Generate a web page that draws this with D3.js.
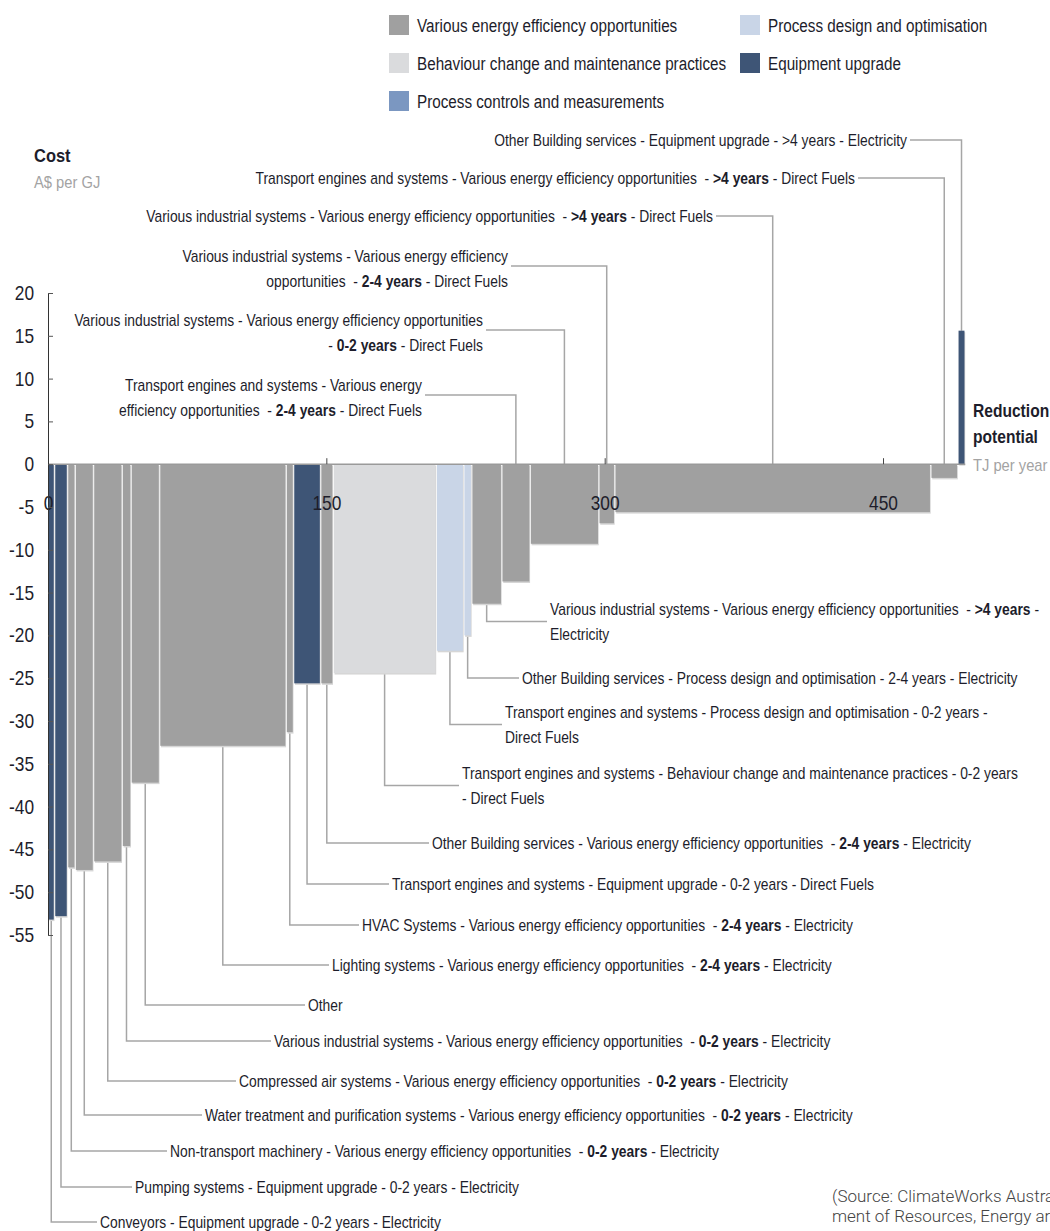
<!DOCTYPE html>
<html>
<head>
<meta charset="utf-8">
<script src="https://cdn.jsdelivr.net/npm/d3@7"></script>
<style>
  body { margin: 0; background: #fff; }
  svg text { font-family: 'Liberation Sans', Arial, sans-serif; fill: #1d1d2b; white-space: pre; }
</style>
</head>
<body>
<div id="chart"></div>
<script>
// Measures, left to right along the curve ("|" = line break in the label)
const measures = [
  "Conveyors - Equipment upgrade - 0-2 years - Electricity",
  "Pumping systems - Equipment upgrade - 0-2 years - Electricity",
  "Non-transport machinery - Various energy efficiency opportunities  - 0-2 years - Electricity",
  "Water treatment and purification systems - Various energy efficiency opportunities  - 0-2 years - Electricity",
  "Compressed air systems - Various energy efficiency opportunities  - 0-2 years - Electricity",
  "Various industrial systems - Various energy efficiency opportunities  - 0-2 years - Electricity",
  "Other",
  "Lighting systems - Various energy efficiency opportunities  - 2-4 years - Electricity",
  "HVAC Systems - Various energy efficiency opportunities  - 2-4 years - Electricity",
  "Transport engines and systems - Equipment upgrade - 0-2 years - Direct Fuels",
  "Other Building services - Various energy efficiency opportunities  - 2-4 years - Electricity",
  "Transport engines and systems - Behaviour change and maintenance practices - 0-2 years|- Direct Fuels",
  "Transport engines and systems - Process design and optimisation - 0-2 years -|Direct Fuels",
  "Other Building services - Process design and optimisation - 2-4 years - Electricity",
  "Various industrial systems - Various energy efficiency opportunities  - >4 years -|Electricity",
  "Transport engines and systems - Various energy|efficiency opportunities  - 2-4 years - Direct Fuels",
  "Various industrial systems - Various energy efficiency opportunities|- 0-2 years - Direct Fuels",
  "Various industrial systems - Various energy efficiency|opportunities  - 2-4 years - Direct Fuels",
  "Various industrial systems - Various energy efficiency opportunities  - >4 years - Direct Fuels",
  "Transport engines and systems - Various energy efficiency opportunities  - >4 years - Direct Fuels",
  "Other Building services - Equipment upgrade - >4 years - Electricity"
];

const levers = [
  "Equipment upgrade", "Equipment upgrade",
  "Various energy efficiency opportunities", "Various energy efficiency opportunities",
  "Various energy efficiency opportunities", "Various energy efficiency opportunities",
  "Various energy efficiency opportunities", "Various energy efficiency opportunities",
  "Various energy efficiency opportunities", "Equipment upgrade",
  "Various energy efficiency opportunities", "Behaviour change and maintenance practices",
  "Process design and optimisation", "Process design and optimisation",
  "Various energy efficiency opportunities", "Various energy efficiency opportunities",
  "Various energy efficiency opportunities", "Various energy efficiency opportunities",
  "Various energy efficiency opportunities", "Various energy efficiency opportunities",
  "Equipment upgrade"
];

// Reduction potential (TJ per year) = bar width
const potential = [3.5, 7.0, 4.1, 9.9, 15.4, 4.8, 15.4, 68.2, 4.0, 14.6, 6.7, 55.6, 14.8, 4.3, 16.2, 15.3, 37.0, 8.6, 170.3, 14.6, 4.0];
// Cost (A$ per GJ) = bar height
const cost = [-53.2, -52.8, -47.1, -47.4, -46.4, -44.6, -37.2, -32.9, -31.3, -25.6, -25.6, -24.4, -21.8, -20.0, -16.3, -13.7, -9.3, -6.9, -5.6, -1.6, 15.6];

const legendItems = [
  "Various energy efficiency opportunities",
  "Behaviour change and maintenance practices",
  "Process controls and measurements",
  "Process design and optimisation",
  "Equipment upgrade"
];
const legendColors = ["#a0a0a0", "#dadbdd", "#7b97c1", "#c9d5e7", "#3e5576"];

const yTicks = d3.range(-55, 21, 5);
const xTicks = [0, 150, 300, 450];

// Label layout (pixels): anchor x and centre y of first line
const labelX = [100, 135, 170, 205, 239, 274, 308, 332, 362, 392, 432, 462, 505, 522, 550, 422, 483, 508, 713, 855, 907];
const labelY = [1222, 1187, 1151, 1115, 1081, 1041, 1005, 965, 925, 884, 843, 773, 712, 678, 609, 385, 320, 256, 216, 178, 140];
const firstTop = 15; // labels from this index on sit above the chart

const NARROW = 0.866; // squeeze Liberation Sans to a narrow face

const W = 1050, H = 1231;
const svg = d3.select("#chart").append("svg")
  .attr("width", W).attr("height", H);

// text helper: condensed text anchored at (px, py)
function ntext(parent, px, py, size, anchor) {
  return parent.append("g")
    .attr("transform", `translate(${px},${py}) scale(${NARROW},1)`)
    .append("text")
    .attr("dy", "0.35em")
    .attr("text-anchor", anchor || "start")
    .style("font-size", size + "px");
}

const x = d3.scaleLinear().domain([0, 495]).range([48, 48 + 495 * 1.8556]);
const y = d3.scaleLinear().domain([-55, 20]).range([935, 293]);
const color = d3.scaleOrdinal().domain(legendItems).range(legendColors);

const starts = [];
potential.reduce((acc, w) => { starts.push(acc); return acc + w; }, 0);
const total = d3.sum(potential);

const bars = measures.map((m, i) => ({
  name: m, lever: levers[i], x0: starts[i], x1: starts[i] + potential[i], cost: cost[i], i
}));

// Legend
const legend = svg.append("g");
legendItems.forEach((d, i) => {
  const col = i < 3 ? 0 : 1, row = i < 3 ? i : i - 3;
  const g = legend.append("g").attr("transform", `translate(${col ? 740 : 389},${15 + row * 38})`);
  g.append("rect").attr("width", 20).attr("height", 20).attr("fill", color(d));
  ntext(g, 28, 11, 17.6).text(d);
});

// Leader lines
const leaders = svg.append("g").attr("fill", "none").attr("stroke", "#a6a6a6").attr("stroke-width", 1.5);
const labels = svg.append("g");

bars.forEach(b => {
  const cx = (x(b.x0) + x(b.x1)) / 2;
  const lines = b.name.split("|");
  const top = b.i >= firstTop;
  const lx = labelX[b.i], ly = labelY[b.i];
  let hy;
  if (top) {
    hy = lines.length > 1 ? ly + 10 : ly;
    const barTop = b.cost > 0 ? y(b.cost) : y(0);
    leaders.append("path").attr("d", `M${lx + 3},${hy}H${cx}V${barTop}`);
  } else {
    hy = lines.length > 1 ? ly + 12.5 : ly;
    const barBottom = b.cost < 0 ? y(b.cost) : y(0);
    leaders.append("path").attr("d", `M${cx},${barBottom + 1}V${hy}H${lx - 3}`);
  }
  lines.forEach((line, k) => {
    const t = ntext(labels, lx, ly + k * 25, 16, top ? "end" : "start");
    // years bolded for the "various opportunities" measures
    line.split(/(\d-\d years|>4 years)/).forEach(p => {
      if (!p) return;
      const bold = /years/.test(p) && /Various energy|opportunities/.test(b.name);
      t.append("tspan").attr("font-weight", bold ? "bold" : null).text(p);
    });
  });
});

// Bars (with a faint shadow)
const barG = svg.append("g");
barG.selectAll(".shadow").data(bars).join("rect")
  .attr("class", "shadow")
  .attr("x", d => x(d.x0) + 1.5)
  .attr("y", d => Math.min(y(0), y(d.cost)) + 1.5)
  .attr("width", d => Math.max(0.5, x(d.x1) - x(d.x0) - 1.5))
  .attr("height", d => Math.abs(y(d.cost) - y(0)))
  .attr("fill", "#d6d6d6");
barG.selectAll(".bar").data(bars).join("rect")
  .attr("class", "bar")
  .attr("x", d => x(d.x0) + 0.75)
  .attr("y", d => Math.min(y(0), y(d.cost)))
  .attr("width", d => Math.max(0.5, x(d.x1) - x(d.x0) - 1.5))
  .attr("height", d => Math.abs(y(d.cost) - y(0)))
  .attr("fill", d => color(d.lever));

// X axis at cost = 0
const xAxis = svg.append("g")
  .attr("transform", `translate(0,${y(0)})`)
  .call(d3.axisBottom(x).tickValues(xTicks).tickFormat(d => String(d))
    .tickSize(-6).tickSizeOuter(0).tickPadding(32));
xAxis.select(".domain").attr("stroke", "#9a9a9a").attr("stroke-width", 1.5)
  .attr("d", `M${x(0)},0H${x(total)}`);
xAxis.selectAll(".tick line").attr("stroke", "#444");
xAxis.selectAll(".tick text").style("font-size", "20px").attr("fill", "#1d1d2b")
  .style("font-family", "'Liberation Sans', Arial, sans-serif")
  .attr("transform", `scale(${NARROW},1)`);

// Y axis
const yAxis = svg.append("g")
  .attr("transform", `translate(${x(0)},0)`)
  .call(d3.axisLeft(y).tickValues(yTicks).tickFormat(d => String(d))
    .tickSize(-5).tickSizeOuter(0).tickPadding(14));
yAxis.select(".domain").attr("stroke", "#333");
yAxis.selectAll(".tick line").attr("stroke", "#555");
yAxis.selectAll(".tick text").style("font-size", "20px").attr("fill", "#1d1d2b")
  .style("font-family", "'Liberation Sans', Arial, sans-serif")
  .attr("x", -14 / NARROW)
  .attr("transform", `scale(${NARROW},1)`);

// Axis titles
ntext(svg, 34, 155, 19).attr("font-weight", "bold").text("Cost");
ntext(svg, 34, 182, 17).style("fill", "#a3a3a3").text("A$ per GJ");
ntext(svg, 973, 411, 18).attr("font-weight", "bold").text("Reduction");
ntext(svg, 973, 437, 18).attr("font-weight", "bold").text("potential");
ntext(svg, 973, 465, 17).style("fill", "#a3a3a3").text("TJ per year");

// Source note (runs off the right edge as in the original)
const src = svg.append("g");
src.append("text").attr("x", 832).attr("y", 1196).attr("dy", "0.35em")
  .style("font-family", "Roboto, sans-serif").style("font-size", "17px").style("font-weight", 300).style("fill", "#444")
  .text("(Source: ClimateWorks Australia and the Depart-");
src.append("text").attr("x", 832).attr("y", 1216).attr("dy", "0.35em")
  .style("font-family", "Roboto, sans-serif").style("font-size", "17px").style("font-weight", 300).style("fill", "#444")
  .text("ment of Resources, Energy and Tourism)");
</script>
</body>
</html>
